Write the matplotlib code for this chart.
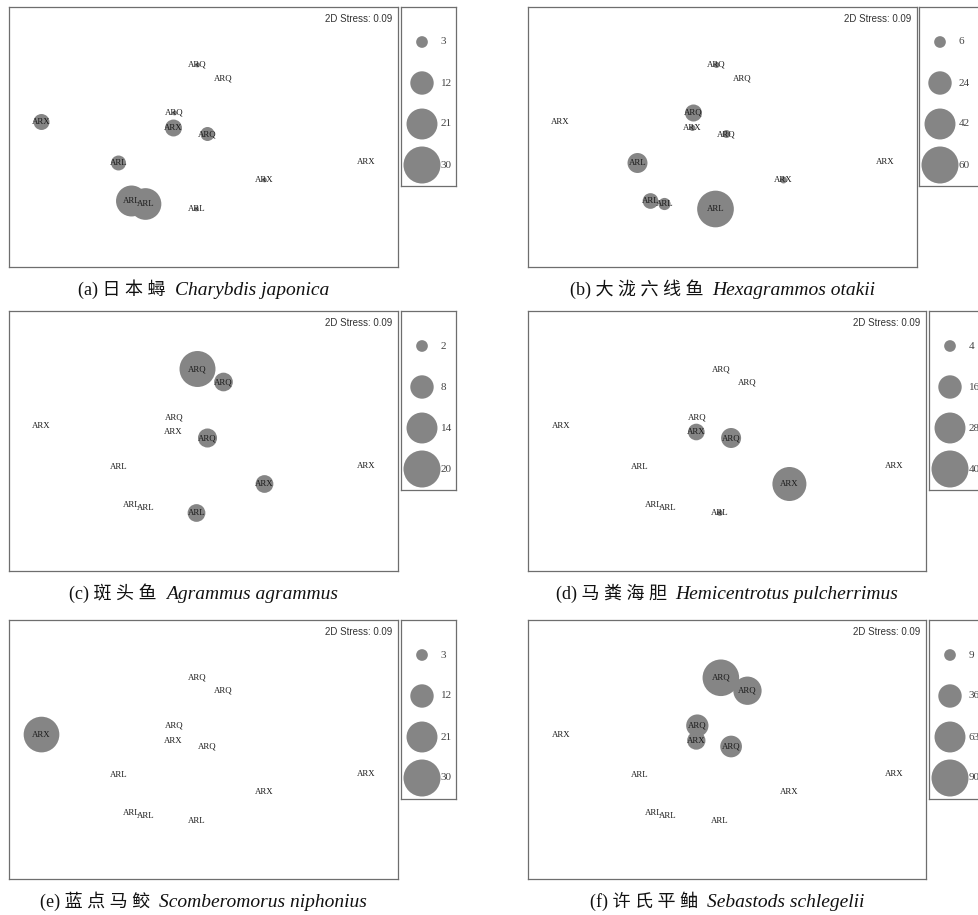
import matplotlib
matplotlib.use("Agg")
import matplotlib.pyplot as plt
import numpy as np

plt.rcParams['font.family'] = ['Liberation Serif', 'Noto Sans CJK SC']

# NMDS ordination of the 12 stations (same for every species)
stations = ['ARQ', 'ARQ', 'ARX', 'ARQ', 'ARX', 'ARQ', 'ARL', 'ARX', 'ARX', 'ARL', 'ARL', 'ARL']
nmds1 = [-0.06, 0.20, -1.62, -0.29, -0.30, 0.04, -0.85, 1.63, 0.61, -0.72, -0.58, -0.07]
nmds2 = [0.72, 0.59, 0.15, 0.24, 0.09, 0.03, -0.26, -0.25, -0.43, -0.64, -0.67, -0.72]

# abundance per station, one list per species
abund_a = [0.5, 0, 5.6, 0.5, 6.3, 4.3, 4.9, 0, 0.5, 21, 22, 0.5]
abund_b = [1.6, 0, 0, 12.7, 1.6, 2.8, 17.5, 0, 2.1, 10.8, 6.5, 59]
abund_c = [18.9, 5.1, 0, 0, 0, 5.3, 0, 0, 4.6, 0, 0, 4.6]
abund_d = [0, 0, 0, 0, 8.1, 11.7, 0, 0, 33.8, 0, 0, 1.0]
abund_e = [0, 0, 27.9, 0, 0, 0, 0, 0, 0, 0, 0, 0]
abund_f = [88, 52.7, 0, 32.7, 22, 31, 0, 0, 0, 0, 0, 0]

legend_a = [3, 12, 21, 30]
legend_b = [6, 24, 42, 60]
legend_c = [2, 8, 14, 20]
legend_d = [4, 16, 28, 40]
legend_e = [3, 12, 21, 30]
legend_f = [9, 36, 63, 90]

tags = ['a', 'b', 'c', 'd', 'e', 'f']
names_cn = ['日 本 蟳', '大 泷 六 线 鱼', '斑 头 鱼', '马 粪 海 胆', '蓝 点 马 鲛', '许 氏 平 鲉']
names_latin = ['Charybdis japonica', 'Hexagrammos otakii', 'Agrammus agrammus',
               'Hemicentrotus pulcherrimus', 'Scomberomorus niphonius', 'Sebastods schlegelii']
stress = '2D Stress: 0.09'

W, H = 979, 915
fig = plt.figure(figsize=(W / 100, H / 100), dpi=100)

# pixel boxes (x0, y0, x1, y1) for main plot and size legend
main_boxes = [(9, 7, 398, 267), (528, 7, 917, 267),
              (9, 311, 398, 571), (528, 311, 926, 571),
              (9, 620, 398, 879), (528, 620, 926, 879)]
leg_boxes = [(401, 7, 456, 186), (919, 7, 985, 186),
             (401, 311, 456, 490), (929, 311, 990, 490),
             (401, 620, 456, 799), (929, 620, 990, 799)]

def rect(b):
    x0, y0, x1, y1 = b
    return [x0 / W, 1 - y1 / H, (x1 - x0) / W, (y1 - y0) / H]

DMAX = 37 * 0.72  # diameter in points of the largest legend bubble
GRAY = '#858585'
EDGE = '#6e6e6e'

abunds = [abund_a, abund_b, abund_c, abund_d, abund_e, abund_f]
legends = [legend_a, legend_b, legend_c, legend_d, legend_e, legend_f]

renderer = fig.canvas.get_renderer()

for i in range(6):
    vmax = legends[i][-1]
    ax = fig.add_axes(rect(main_boxes[i]))
    sizes = DMAX ** 2 * np.array(abunds[i]) / vmax
    ax.scatter(nmds1, nmds2, s=sizes, color=GRAY, linewidths=0, zorder=2)
    for x, y, lab in zip(nmds1, nmds2, stations):
        ax.text(x, y, lab, ha='center', va='center', fontsize=6.3,
                color='#1a1a1a', zorder=3)
    ax.set_xlim(-1.945, 1.945)
    ax.set_ylim(-1.3, 1.3)
    ax.set_xticks([])
    ax.set_yticks([])
    for sp in ax.spines.values():
        sp.set_color(EDGE)
        sp.set_linewidth(0.9)
    bw = main_boxes[i][2] - main_boxes[i][0]
    bh = main_boxes[i][3] - main_boxes[i][1]
    ax.text(1 - 6 / bw, 1 - 12 / bh, stress, transform=ax.transAxes,
            ha='right', va='center', fontsize=7, family='Liberation Sans',
            color='#333333')

    # size legend
    lb = leg_boxes[i]
    lax = fig.add_axes(rect(lb))
    lw_px = lb[2] - lb[0]
    lh_px = lb[3] - lb[1]
    lax.set_xlim(0, lw_px)
    lax.set_ylim(lh_px, 0)
    rows = [35, 76, 117, 158]
    lax.scatter([21] * 4, rows, s=DMAX ** 2 * np.array(legends[i]) / vmax,
                color=GRAY, linewidths=0, clip_on=False)
    for r, v in zip(rows, legends[i]):
        lax.text(40, r, str(v), ha='left', va='center', fontsize=8,
                 color='#444444')
    lax.set_xticks([])
    lax.set_yticks([])
    for sp in lax.spines.values():
        sp.set_color(EDGE)
        sp.set_linewidth(0.9)

    # caption centred under the main box: upright part + italic latin name
    cx = (main_boxes[i][0] + main_boxes[i][2]) / 2
    cy = main_boxes[i][3] + 28
    t1 = fig.text(0, 1 - cy / H, '(%s) %s  ' % (tags[i], names_cn[i]),
                  fontsize=13, va='baseline', ha='left', color='#111111')
    t2 = fig.text(0, 1 - cy / H, names_latin[i], fontsize=14, style='italic',
                  va='baseline', ha='left', color='#111111')
    w1 = t1.get_window_extent(renderer).width
    w2 = t2.get_window_extent(renderer).width
    x_start = cx - (w1 + w2) / 2
    t1.set_x(x_start / W)
    t2.set_x((x_start + w1) / W)

fig.savefig('out.png', dpi=100)
